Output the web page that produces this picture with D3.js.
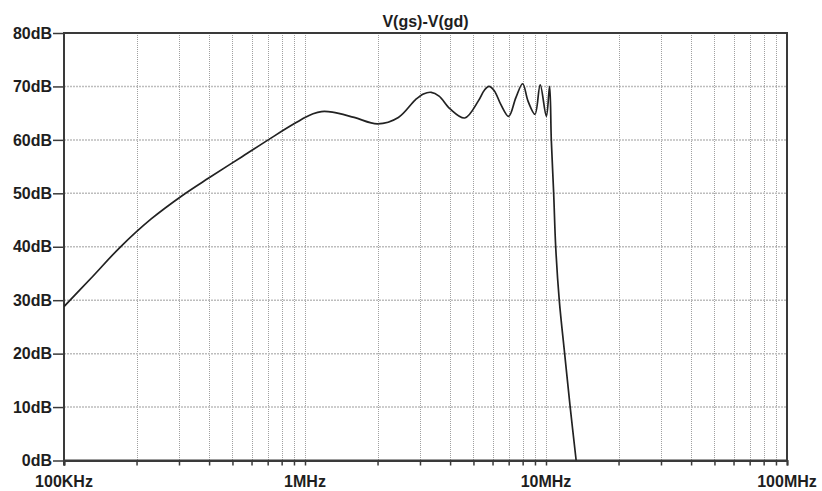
<!DOCTYPE html>
<html>
<head>
<meta charset="utf-8">
<script src="https://cdn.jsdelivr.net/npm/d3@7"></script>
<style>
  html, body { margin: 0; padding: 0; background: #fff; }
  svg { display: block; font-family: "Liberation Sans", Arial, sans-serif; }
</style>
</head>
<body>
<svg id="chart" width="822" height="491"></svg>
<script>
// trace V(gs)-V(gd)
const freqHz = [
  1e5, 1.3e5, 1.7e5, 2.3e5, 3.1e5, 4e5, 5.5e5, 7.5e5, 9e5, 1e6,
  1.08e6, 1.17e6, 1.3e6, 1.6e6, 2.0e6, 2.44e6, 2.87e6, 3.1e6, 3.34e6, 3.6e6, 4.0e6, 4.6e6,
  5.24e6, 5.55e6, 5.8e6, 6.1e6, 6.5e6, 7.0e6, 7.5e6, 8.0e6, 8.43e6, 9.0e6, 9.46e6,
  10.03e6, 10.35e6, 10.52e6, 10.76e6, 10.97e6, 11.35e6, 11.95e6, 12.6e6, 13.34e6
];
const gainDb = [
  28.8, 34.2, 39.8, 45.2, 49.6, 52.9, 56.9, 60.8, 63.0, 64.2,
  64.9, 65.3, 65.2, 64.2, 63.0, 64.2, 67.5, 68.6, 68.9, 68.2, 65.8, 64.1,
  67.3, 69.3, 70.0, 69.2, 66.6, 64.4, 67.9, 70.5, 67.2, 64.8, 70.3,
  64.4, 70.0, 60, 50, 40, 30, 20, 10, 0
];

const title = 'V(gs)-V(gd)';
const xDomain = [1e5, 1e8];
const xLabelValues = [1e5, 1e6, 1e7, 1e8];
const xLabels = ['100KHz', '1MHz', '10MHz', '100MHz'];
const yDomain = [0, 80];
const yTickValues = [0, 10, 20, 30, 40, 50, 60, 70, 80];

const width = 822;
const height = 491;
const margin = { top: 33, right: 35, bottom: 30.5, left: 64 };

const svg = d3.select('#chart');

const x = d3.scaleLog().domain(xDomain).range([margin.left, width - margin.right]);
const y = d3.scaleLinear().domain(yDomain).range([height - margin.bottom, margin.top]);

const axisColor = '#3a3a3a';
const textColor = '#1e1e1e';

// grid
const grid = svg.append('g');
grid.selectAll('line.vg')
  .data(x.ticks().filter((d) => d > xDomain[0] && d < xDomain[1]))
  .join('line')
  .attr('class', 'vg')
  .attr('x1', (d) => Math.round(x(d)) + 0.5)
  .attr('x2', (d) => Math.round(x(d)) + 0.5)
  .attr('y1', y(yDomain[1]))
  .attr('y2', y(yDomain[0]))
  .attr('stroke', '#a0a0a0')
  .attr('stroke-width', 1)
  .attr('stroke-dasharray', '1,1');

grid.selectAll('line.hg')
  .data(yTickValues.filter((d) => d > yDomain[0] && d < yDomain[1]))
  .join('line')
  .attr('class', 'hg')
  .attr('x1', x(xDomain[0]))
  .attr('x2', x(xDomain[1]))
  .attr('y1', (d) => y(d))
  .attr('y2', (d) => y(d))
  .attr('stroke', '#bdbdbd')
  .attr('stroke-width', 1.5)
  .attr('stroke-dasharray', '2,1');

// axes
const xAxis = d3.axisBottom(x)
  .tickValues(x.ticks())
  .tickSize(5)
  .tickFormat('');
svg.append('g')
  .attr('transform', `translate(0,${y(yDomain[0])})`)
  .call(xAxis)
  .call((g) => g.select('.domain').attr('stroke', axisColor).attr('stroke-width', 2))
  .call((g) => g.selectAll('.tick line').attr('stroke', axisColor).attr('stroke-width', 1.5));

svg.append('g')
  .selectAll('text')
  .data(xLabelValues)
  .join('text')
  .attr('x', (d) => x(d))
  .attr('y', 487)
  .attr('text-anchor', 'middle')
  .attr('font-size', 16)
  .attr('font-weight', 'bold')
  .attr('fill', textColor)
  .text((d, i) => xLabels[i]);

const yAxis = d3.axisLeft(y)
  .tickValues(yTickValues)
  .tickSize(11)
  .tickPadding(1)
  .tickFormat((d) => `${d}dB`);
svg.append('g')
  .attr('transform', `translate(${x(xDomain[0])},0)`)
  .call(yAxis)
  .call((g) => g.select('.domain').remove())
  .call((g) => g.selectAll('.tick line').attr('stroke', axisColor).attr('stroke-width', 1.5))
  .call((g) => g.selectAll('.tick text')
    .attr('font-size', 16)
    .attr('font-weight', 'bold')
    .attr('font-family', '"Liberation Sans", Arial, sans-serif')
    .attr('fill', textColor));

// frame
svg.append('rect')
  .attr('x', x(xDomain[0]))
  .attr('y', y(yDomain[1]))
  .attr('width', x(xDomain[1]) - x(xDomain[0]))
  .attr('height', y(yDomain[0]) - y(yDomain[1]))
  .attr('fill', 'none')
  .attr('stroke', axisColor)
  .attr('stroke-width', 2);

svg.append('line')
  .attr('x1', x(xDomain[0]))
  .attr('x2', x(xDomain[0]))
  .attr('y1', y(yDomain[0]))
  .attr('y2', y(yDomain[0]) + 5)
  .attr('stroke', axisColor)
  .attr('stroke-width', 2);

// trace
svg.append('clipPath')
  .attr('id', 'plot-clip')
  .append('rect')
  .attr('x', x(xDomain[0]))
  .attr('y', y(yDomain[1]))
  .attr('width', x(xDomain[1]) - x(xDomain[0]))
  .attr('height', y(yDomain[0]) - y(yDomain[1]));

const line = d3.line()
  .x((d, i) => x(freqHz[i]))
  .y((d) => y(d))
  .curve(d3.curveCatmullRom.alpha(0.5));

svg.append('path')
  .attr('clip-path', 'url(#plot-clip)')
  .attr('d', line(gainDb))
  .attr('fill', 'none')
  .attr('stroke', '#222')
  .attr('stroke-width', 1.7)
  .attr('stroke-linejoin', 'round');

svg.append('text')
  .attr('x', (x(xDomain[0]) + x(xDomain[1])) / 2)
  .attr('y', 27)
  .attr('text-anchor', 'middle')
  .attr('font-size', 16)
  .attr('font-weight', 'bold')
  .attr('fill', textColor)
  .text(title);
</script>
</body>
</html>
